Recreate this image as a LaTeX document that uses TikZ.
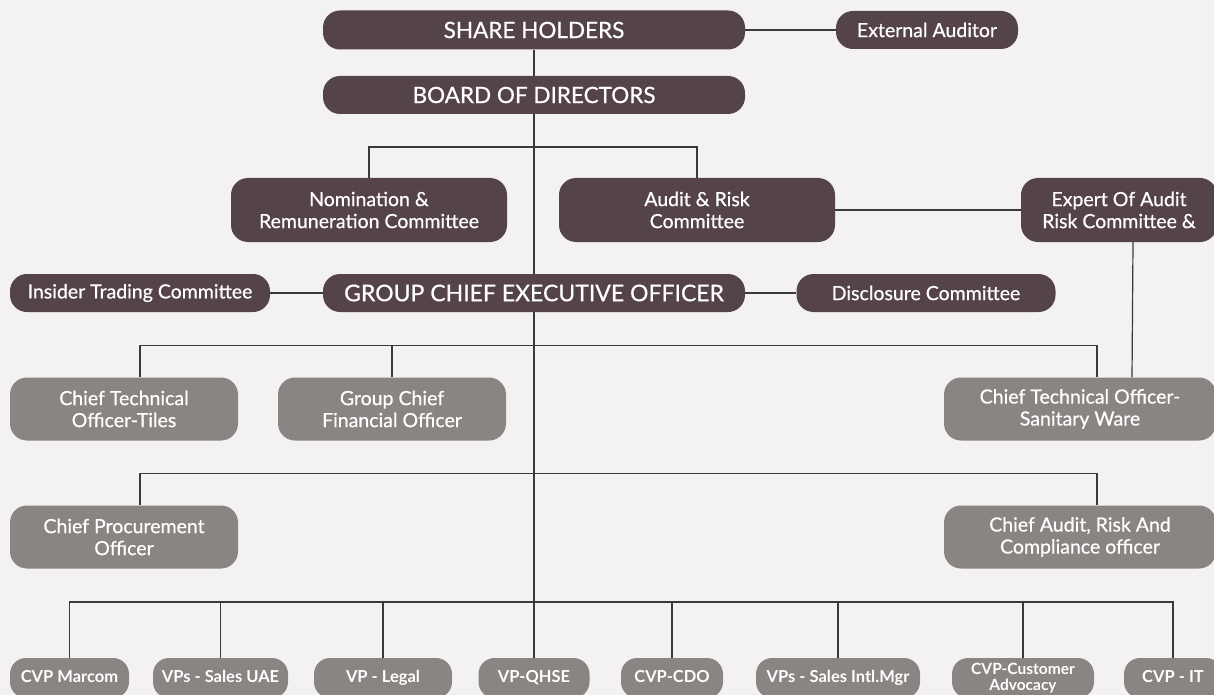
\documentclass[tikz,border=0pt]{standalone}
\usepackage{fontspec}
\setmainfont{Lato}
\newfontfamily\mediumfont{Lato}[FakeBold=0.6]
\usepackage{tikz}

\definecolor{paper}{HTML}{F3F1F1}
\definecolor{boardbrown}{HTML}{544347}
\definecolor{staffgray}{HTML}{8A8583}
\definecolor{wire}{HTML}{3A3A3A}

\tikzset{
  board/.style={fill=boardbrown, text=white, rounded corners=17pt, inner sep=2pt,
    align=center, font=\mediumfont\fontsize{19.5}{22}\selectfont},
  staff/.style={fill=staffgray, text=white, rounded corners=17pt, inner sep=2pt,
    align=center, font=\mediumfont\fontsize{19.5}{22}\selectfont},
  unit/.style={fill=staffgray, text=white, rounded corners=16pt, inner sep=2pt,
    minimum height=40pt, text height=12pt, text depth=3pt,
    font=\bfseries\fontsize{16.5}{17}\selectfont},
  wired/.style={draw=wire, line width=1.2pt},
}

\begin{document}
\begin{tikzpicture}[x=1pt, y=-1pt]
\fill[paper] (0,0) rectangle (1214,695);
\useasboundingbox (0,0) rectangle (1214,695);

% top of the chart
\node[board, minimum width=422pt, minimum height=39pt, font=\mediumfont\fontsize{22.5}{26}\selectfont] (sh) at (534,30) {SHARE HOLDERS};
\node[board, minimum width=182pt, minimum height=38pt] (ext) at (927,30) {External Auditor};
\node[board, minimum width=422pt, minimum height=38pt, font=\mediumfont\fontsize{22.5}{26}\selectfont] (bod) at (534,95) {BOARD OF DIRECTORS};

% committees
\node[board, minimum width=276pt, minimum height=64pt] (nom) at (369,210) {Nomination \&\\Remuneration Committee};
\node[board, minimum width=276pt, minimum height=64pt] (arc) at (697,210) {Audit \& Risk\\Committee};
\node[board, minimum width=196pt, minimum height=64pt] (exp) at (1119,210) {Expert Of Audit\\Risk Committee \&};

\node[board, minimum width=260pt, minimum height=38pt] (itc) at (140,293) {Insider Trading Committee};
\node[board, minimum width=422pt, minimum height=38pt, font=\mediumfont\fontsize{23}{26}\selectfont] (gceo) at (534,293) {GROUP CHIEF EXECUTIVE OFFICER};
\node[board, minimum width=259pt, minimum height=38pt] (disc) at (926,293) {Disclosure Committee};

% chiefs
\node[staff, minimum width=228pt, minimum height=63pt] (ctt) at (124,409) {Chief Technical\\Officer-Tiles};
\node[staff, minimum width=228pt, minimum height=63pt] (gcfo) at (392,409) {Group Chief\\Financial Officer};
\node[staff, minimum width=272pt, minimum height=63pt] (ctsw) at (1080,409) {Chief Technical Officer-\\Sanitary Ware};
\node[staff, minimum width=228pt, minimum height=63pt] (cpo) at (124,537) {Chief Procurement\\Officer};
\node[staff, minimum width=272pt, minimum height=63pt] (carc) at (1080,537) {Chief Audit, Risk And\\Compliance officer};

% vice presidents
\node[unit, minimum width=119pt] (cvpm) at (69.5,678) {CVP Marcom};
\node[unit, minimum width=135pt] (vpsu) at (220.5,678) {VPs - Sales UAE};
\node[unit, minimum width=138pt] (vpl) at (383,678) {VP - Legal};
\node[unit, minimum width=111pt] (qhse) at (534,678) {VP-QHSE};
\node[unit, minimum width=102pt] (cdo) at (672,678) {CVP-CDO};
\node[unit, minimum width=164pt] (vpsi) at (838,678) {VPs - Sales Intl.Mgr};
\node[unit, minimum width=142pt, text height=, text depth=, align=center,
  font=\bfseries\fontsize{15.5}{16}\selectfont] (cca) at (1023,678) {CVP-Customer\\Advocacy};
\node[unit, minimum width=98pt] (cit) at (1173,678) {CVP - IT};

\coordinate (b1) at (534,147);
\coordinate (b4) at (534,602);

\draw[wired] (sh) -- (ext);
\draw[wired] (sh) -- (bod);
\draw[wired] (bod) -- (gceo);
\draw[wired] (nom.north) |- (arc.north |- b1) -- (arc.north);
\draw[wired] (arc) -- (exp);
\draw[wired] (itc) -- (gceo);
\draw[wired] (gceo) -- (disc);
\draw[wired] (gceo) -- (qhse);
\draw[wired] ([xshift=14pt]exp.south) -- ([xshift=52pt]ctsw.north);

\draw[wired] ([xshift=16pt]ctt.north) -- ++(0,-32) -| ([xshift=17pt]ctsw.north);
\draw[wired] (gcfo.north) -- ++(0,-32);
\draw[wired] ([xshift=16pt]cpo.north) -- ++(0,-32) -| ([xshift=17pt]carc.north);

\draw[wired] (cvpm.north) |- (b4) -| (cit.north);
\foreach \n in {vpsu,vpl,cdo,vpsi,cca}
  \draw[wired] (\n.north) -- (\n.north |- b4);
\end{tikzpicture}
\end{document}
